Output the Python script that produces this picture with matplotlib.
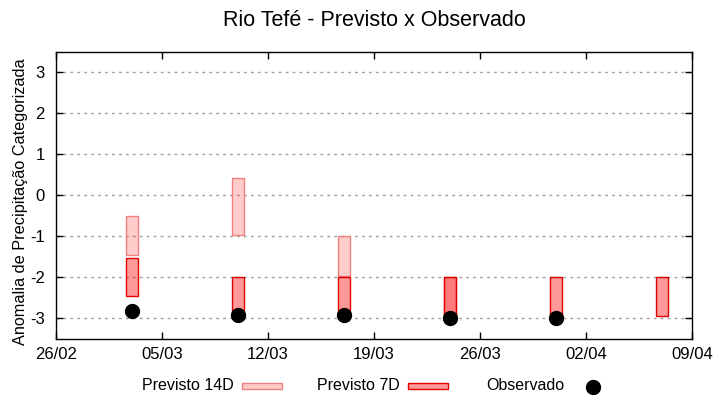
import matplotlib
matplotlib.use("Agg")
import matplotlib.pyplot as plt
import matplotlib.dates as mdates
from matplotlib.patches import Rectangle
from matplotlib.lines import Line2D
import pandas as pd

plt.rcParams["font.family"] = ["Liberation Sans", "DejaVu Sans"]
plt.rcParams["axes.unicode_minus"] = False

# Data
dates_14d = ["2023-03-03", "2023-03-10", "2023-03-17", "2023-03-24"]
top_14d = [-0.5, 0.43, -1.0, -2.0]
bottom_14d = [-1.45, -0.96, -1.96, -2.95]

dates_7d = ["2023-03-03", "2023-03-10", "2023-03-17", "2023-03-24", "2023-03-31", "2023-04-07"]
top_7d = [-1.52, -2.0, -2.0, -2.0, -2.0, -2.0]
bottom_7d = [-2.45, -2.95, -2.95, -2.95, -2.95, -2.95]

dates_obs = ["2023-03-03", "2023-03-10", "2023-03-17", "2023-03-24", "2023-03-31"]
observed = [-2.81, -2.91, -2.91, -3.0, -3.0]

x_ticks = pd.date_range("2023-02-26", "2023-04-09", freq="7D")
y_ticks = [-3, -2, -1, 0, 1, 2, 3]

c14_face = (1.0, 0.0, 0.0, 0.2)
c14_edge = "#f08080"
c7_face = (1.0, 0.0, 0.0, 0.4)
c7_edge = "#e00000"

fig = plt.figure(figsize=(7.2, 4.0), dpi=100)
ax = fig.add_axes([56 / 720, 1 - 339 / 400, 636 / 720, (339 - 51.7) / 400])

d14 = pd.to_datetime(dates_14d)
ax.bar(d14, [t - b for t, b in zip(top_14d, bottom_14d)], bottom=bottom_14d,
       width=0.8, facecolor=c14_face, edgecolor=c14_edge, linewidth=1.0, zorder=3)
d7 = pd.to_datetime(dates_7d)
ax.bar(d7, [t - b for t, b in zip(top_7d, bottom_7d)], bottom=bottom_7d,
       width=0.8, facecolor=c7_face, edgecolor=c7_edge, linewidth=1.0, zorder=4)
ax.plot(pd.to_datetime(dates_obs), observed, "o", color="black", markersize=10, zorder=5)

ax.set_xlim(x_ticks[0], x_ticks[-1])
ax.set_ylim(-3.5, 3.5)
ax.set_xticks(x_ticks)
ax.xaxis.set_major_formatter(mdates.DateFormatter("%d/%m"))
ax.set_yticks(y_ticks)
ax.set_yticklabels([str(v) for v in y_ticks])
ax.tick_params(direction="in", length=5, width=1, top=True, right=True, labelsize=12,
               colors="black")
ax.tick_params(axis="x", pad=6)
ax.tick_params(axis="y", pad=8)
ax.grid(axis="y", color="#a0a0a0", linestyle=(0, (2, 3)), linewidth=1.0, zorder=0)
for s in ax.spines.values():
    s.set_linewidth(1.0)

fig.text(20.5 / 720, 1 - 202 / 400, "Anomalia de Precipitação Categorizada", rotation=90,
         ha="center", va="center", fontsize=11.7)
fig.text(374 / 720, 1 - 20 / 400, "Rio Tefé - Previsto x Observado", ha="center",
         va="center", fontsize=15.5)

# Legend below the plot, gnuplot style: text then sample
ly = 1 - 386 / 400
fig.text(142 / 720, ly, "Previsto 14D", ha="left", va="center", fontsize=11.5)
fig.add_artist(Rectangle((242 / 720, 1 - 389 / 400), 40 / 720, 6 / 400,
                         transform=fig.transFigure, facecolor=c14_face, edgecolor=c14_edge,
                         linewidth=1.0))
fig.text(317 / 720, ly, "Previsto 7D", ha="left", va="center", fontsize=11.5)
fig.add_artist(Rectangle((408 / 720, 1 - 389 / 400), 40 / 720, 6 / 400,
                         transform=fig.transFigure, facecolor=c7_face, edgecolor=c7_edge,
                         linewidth=1.0))
fig.text(486 / 720, ly, "Observado", ha="left", va="center", fontsize=11.5)
fig.add_artist(Line2D([593 / 720], [1 - 387 / 400], marker="o", color="black",
                      markersize=10, transform=fig.transFigure))

fig.savefig("out.png", dpi=100)
